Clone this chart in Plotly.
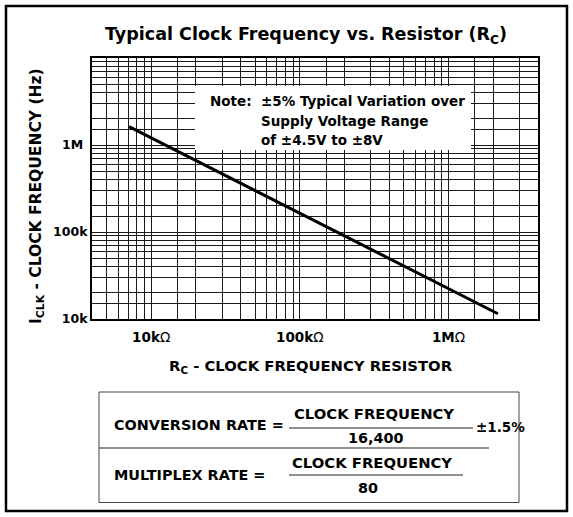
import plotly.graph_objects as go

# ---- data ----
resistance_ohm = [7.1e3, 2.15e6]
clock_freq_hz = [1.63e6, 11.5e3]

x_label_vals = [1e4, 1e5, 1e6]
x_label_text = ["<b>10k</b>Ω", "<b>100k</b>Ω", "<b>1M</b>Ω"]
y_label_vals = [1e4, 1e5, 1e6]
y_label_text = ["<b>10k</b>", "<b>100k</b>", "<b>1M\u00a0</b>"]

grid_mults = [1, 1.5, 2, 3, 4, 5, 6, 7, 8, 9]
x_min, x_max = 4e3, 4e6
y_min, y_max = 1e4, 1e7

# ---- layout geometry (pixels) ----
W, H = 573, 517
PL, PR, PT, PB = 92, 538, 58, 319
FONT = "DejaVu Sans, Verdana, sans-serif"


def px(x):
    return (x - PL) / (PR - PL)


def py(y):
    return (PB - y) / (PB - PT)


def grid_values(lo, hi):
    vals = []
    d = 1e3
    while d <= hi:
        for m in grid_mults:
            v = m * d
            if lo * 0.999 <= v <= hi * 1.001:
                vals.append(v)
        d *= 10
    return vals


def ticks(lo, hi, label_vals, label_text):
    vals = grid_values(lo, hi)
    text = []
    for v in vals:
        t = ""
        for lv, lt in zip(label_vals, label_text):
            if abs(v - lv) / lv < 1e-6:
                t = lt
        text.append(t)
    return vals, text


xv, xt = ticks(x_min, x_max, x_label_vals, x_label_text)
yv, yt = ticks(y_min, y_max, y_label_vals, y_label_text)

fig = go.Figure()
fig.add_trace(go.Scatter(x=resistance_ohm, y=clock_freq_hz, mode="lines",
                         line=dict(color="black", width=3), showlegend=False,
                         hoverinfo="skip"))

axis_common = dict(type="log", showgrid=True, gridcolor="#1a1a1a", gridwidth=1,
                   showline=True, linecolor="black", linewidth=2, mirror=True,
                   ticks="", zeroline=False, fixedrange=True)
fig.update_xaxes(tickmode="array", tickvals=xv, ticktext=xt,
                 ticklabelstandoff=5,
                 tickfont=dict(family=FONT, size=13.5, color="black"), **axis_common)
fig.update_yaxes(tickmode="array", tickvals=yv, ticktext=yt,
                 ticklabelstandoff=0,
                 tickfont=dict(family=FONT, size=12.5, color="black"), **axis_common)
fig.update_xaxes(range=[3.60206, 6.60206])
fig.update_yaxes(range=[4, 7])

shapes = []
# note box (white, covers grid)
shapes.append(dict(type="rect", xref="paper", yref="paper", layer="above",
                   x0=px(195), x1=px(471), y0=py(150), y1=py(86),
                   fillcolor="white", line=dict(width=0)))
# outer frame
shapes.append(dict(type="rect", xref="paper", yref="paper", layer="below",
                   x0=px(6), x1=px(567), y0=py(511), y1=py(6),
                   line=dict(color="black", width=2.5)))
# formula box
shapes.append(dict(type="rect", xref="paper", yref="paper",
                   x0=px(99), x1=px(519), y0=py(502.5), y1=py(392),
                   line=dict(color="#444", width=1)))
# divider
shapes.append(dict(type="line", xref="paper", yref="paper",
                   x0=px(99), x1=px(489), y0=py(448), y1=py(448),
                   line=dict(color="#222", width=1.2)))
# fraction bars
shapes.append(dict(type="line", xref="paper", yref="paper",
                   x0=px(289), x1=px(473), y0=py(428), y1=py(428),
                   line=dict(color="#222", width=1.2)))
shapes.append(dict(type="line", xref="paper", yref="paper",
                   x0=px(289), x1=px(463), y0=py(475), y1=py(475),
                   line=dict(color="#222", width=1.2)))

ann = []


def add_text(text, x, y, size, xanchor="center", angle=0):
    ann.append(dict(text=text, x=px(x), y=py(y), xref="paper", yref="paper",
                    xanchor=xanchor, yanchor="middle", showarrow=False,
                    textangle=angle, font=dict(family=FONT, size=size, color="black")))


add_text("<b>Typical Clock Frequency vs. Resistor (R<sub>C</sub>)</b>", 306, 36, 17.5)
add_text("<b>I<sub>CLK</sub> - CLOCK FREQUENCY (Hz)</b>", 37, 196, 15.5, angle=-90)
add_text("<b>R<sub>C</sub> - CLOCK FREQUENCY RESISTOR</b>", 311, 366, 14.8)
add_text("<b>Note:\u00a0\u00a0±5% Typical Variation over</b>", 208, 101, 13.5, xanchor="left")
add_text("<b>Supply Voltage Range</b>", 259, 121, 13.5, xanchor="left")
add_text("<b>of ±4.5V to ±8V</b>", 259, 140, 13.5, xanchor="left")

add_text("<b>CONVERSION RATE =</b>", 112, 425, 14.4, xanchor="left")
add_text("<b>CLOCK FREQUENCY</b>", 374, 413, 14.8)
add_text("<b>16,400</b>", 376, 438, 14.4)
add_text("<b>±1.5%</b>", 474, 427, 13.5, xanchor="left")
add_text("<b>MULTIPLEX RATE =</b>", 112, 475, 14.4, xanchor="left")
add_text("<b>CLOCK FREQUENCY</b>", 372, 462, 14.8)
add_text("<b>80</b>", 368, 488, 14.4)

fig.update_layout(width=W, height=H, margin=dict(l=PL, r=W - PR, t=PT, b=H - PB, pad=0),
                  paper_bgcolor="white", plot_bgcolor="white",
                  shapes=shapes, annotations=ann, showlegend=False)

fig.write_html("out.html", config={"displayModeBar": False},
               post_script="document.body.style.margin='0';"
                           "document.documentElement.style.overflow='hidden';")
